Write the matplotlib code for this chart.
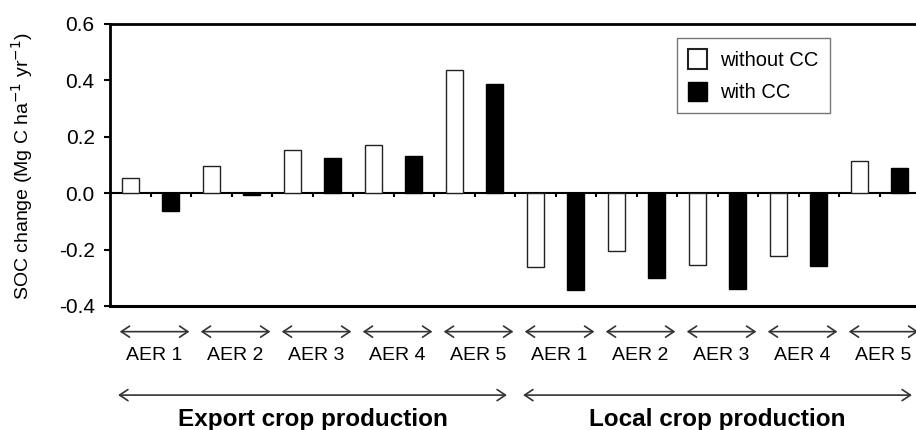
import matplotlib
matplotlib.use('Agg')
import matplotlib.pyplot as plt
from matplotlib.patches import Patch
import numpy as np

# ---- data ----
groups = ['Export crop production', 'Local crop production']
regions = ['AER 1', 'AER 2', 'AER 3', 'AER 4', 'AER 5']
without_cc = [0.055, 0.097, 0.152, 0.172, 0.437,
              -0.260, -0.206, -0.256, -0.223, 0.113]
with_cc = [-0.063, -0.005, 0.125, 0.131, 0.388,
           -0.345, -0.300, -0.341, -0.258, 0.090]
series_labels = ['without CC', 'with CC']

plt.rcParams['font.family'] = ['Liberation Sans', 'DejaVu Sans']
plt.rcParams['axes.unicode_minus'] = False

fig = plt.figure(figsize=(9.16, 4.30), dpi=100)
ax = fig.add_axes([0.1201, 0.2884, 0.8843, 0.6558])

n = len(without_cc)
slots = np.arange(2 * n)
x_white = slots[0::2] + 0.5
x_black = slots[1::2] + 0.5
bw = 0.43

ax.bar(x_white, without_cc, width=bw, facecolor='white', edgecolor='#222222', linewidth=1.0, zorder=3)
ax.bar(x_black, with_cc, width=bw, facecolor='black', edgecolor='black', linewidth=1.0, zorder=3)

ax.set_xlim(0, 2 * n)
ax.set_ylim(-0.4, 0.6)
ax.set_yticks(np.arange(-0.4, 0.61, 0.2))
ax.set_yticklabels([f"{v:.1f}" for v in np.arange(-0.4, 0.61, 0.2)], fontsize=15)
ax.set_xticks([])
ax.tick_params(axis='y', direction='out', length=4, width=1.5, pad=7)

for side in ['top', 'left', 'bottom']:
    ax.spines[side].set_linewidth(2)
ax.spines['bottom'].set_linewidth(2.2)
ax.spines['right'].set_visible(False)

# zero line with small ticks between bars
zero = ax.secondary_xaxis(0.4)
zero.set_xticks(np.arange(1, 2 * n))
zero.tick_params(direction='out', length=3, width=1.5, labelbottom=False, labeltop=False)
zero.spines['bottom'].set_linewidth(1.5)

ax.set_ylabel('SOC change (Mg C ha$^{-1}$ yr$^{-1}$)', fontsize=14)
ax.yaxis.set_label_coords(-0.092, 0.496)

# legend
handles = [Patch(facecolor='white', edgecolor='#222222', linewidth=1.5),
           Patch(facecolor='black', edgecolor='black')]
leg = ax.legend(handles, series_labels, loc='upper left', bbox_to_anchor=(0.70, 0.95),
                fontsize=14.5, frameon=True, fancybox=False, handlelength=0.95,
                handleheight=1.1, handletextpad=0.65, labelspacing=0.6,
                borderpad=0.55, borderaxespad=0)
leg.get_frame().set_edgecolor('#555555')
leg.get_frame().set_linewidth(1.0)

# arrows and labels under the axis
trans = ax.get_xaxis_transform()
arrow_kw = dict(arrowstyle='<->,head_length=0.3,head_width=0.2', color='#333333',
                lw=1.2, shrinkA=0, shrinkB=0, mutation_scale=20)
for i in range(n):
    c = 2 * i + 1 + 0.1
    ax.annotate('', xy=(c + 0.86, -0.091), xytext=(c - 0.86, -0.091),
                xycoords=trans, textcoords=trans, arrowprops=arrow_kw, annotation_clip=False)
    ax.text(c, -0.174, regions[i % len(regions)], transform=trans, ha='center', va='center',
            fontsize=14)

for g, name in enumerate(groups):
    start = g * 10 + 0.2
    end = (g + 1) * 10 - 0.2
    ax.annotate('', xy=(end, -0.316), xytext=(start, -0.316),
                xycoords=trans, textcoords=trans, arrowprops=arrow_kw, annotation_clip=False)
    ax.text((start + end) / 2, -0.425, name, transform=trans, ha='center', va='baseline',
            fontsize=17.5, fontweight='bold')

fig.savefig('out.png', dpi=100)
